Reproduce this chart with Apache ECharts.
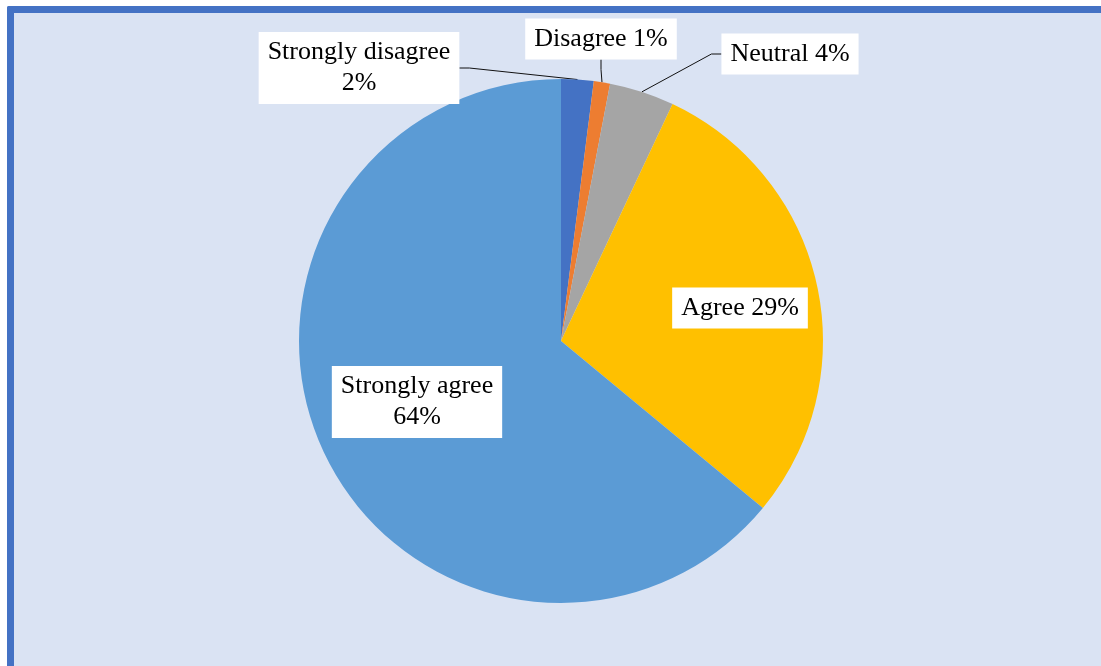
<!DOCTYPE html>
<html>
<head>
<meta charset="utf-8">
<script src="https://cdn.jsdelivr.net/npm/echarts@6/dist/echarts.min.js"></script>
<style>
  html, body { margin: 0; padding: 0; background: #ffffff; overflow: hidden; }
  #frame {
    position: absolute; left: 7px; top: 6px; width: 1100px; height: 670px;
    background: #DAE3F3; border-left: 7px solid #4472C4; border-top: 7px solid #4472C4;
    border-top-left-radius: 2px;
  }
  #chart { position: absolute; left: 0; top: 0; width: 1101px; height: 666px; }
</style>
</head>
<body>
<div id="frame"></div>
<div id="chart"></div>
<script>
// Survey responses, share of respondents (%)
const categories = ['Strongly disagree', 'Disagree', 'Neutral', 'Agree', 'Strongly agree'];
const shares = [2, 1, 4, 29, 64];

const sliceColors = ['#4472C4', '#ED7D31', '#A5A5A5', '#FFC000', '#5B9BD5'];

// Label placement (box centres) and whether the value goes on its own line
const labelSpots = [
  { x: 359, y: 68, twoLine: true, outside: true },
  { x: 601, y: 39, twoLine: false, outside: true },
  { x: 790, y: 54, twoLine: false, outside: true },
  { x: 740, y: 308, twoLine: false, outside: false },
  { x: 417, y: 402, twoLine: true, outside: false }
];

const chart = echarts.init(document.getElementById('chart'), null, { renderer: 'canvas' });

const data = categories.map((name, i) => ({
  name: name,
  value: shares[i],
  itemStyle: { color: sliceColors[i] },
  label: {
    position: labelSpots[i].outside ? 'outside' : 'inside',
    formatter: labelSpots[i].twoLine ? '{b}\n{c}%' : '{b} {c}%'
  },
  labelLine: { show: labelSpots[i].outside }
}));

chart.setOption({
  backgroundColor: 'transparent',
  animation: false,
  series: [{
    type: 'pie',
    center: [561, 341],
    radius: [0, 262],
    startAngle: 90,
    clockwise: true,
    avoidLabelOverlap: false,
    data: data,
    itemStyle: { borderWidth: 0 },
    label: {
      show: true,
      color: '#000000',
      fontFamily: '"Liberation Serif", "DejaVu Serif", serif',
      fontSize: 26,
      lineHeight: 31,
      align: 'center',
      backgroundColor: '#ffffff',
      padding: [5, 9, 5, 9]
    },
    labelLine: {
      show: true,
      length: 10,
      length2: 10,
      lineStyle: { color: '#111111', width: 1 }
    },
    emphasis: { disabled: true },
    labelLayout: function (params) {
      const s = labelSpots[params.dataIndex];
      return { x: s.x, y: s.y, align: 'center', verticalAlign: 'middle' };
    }
  }]
});
</script>
</body>
</html>
